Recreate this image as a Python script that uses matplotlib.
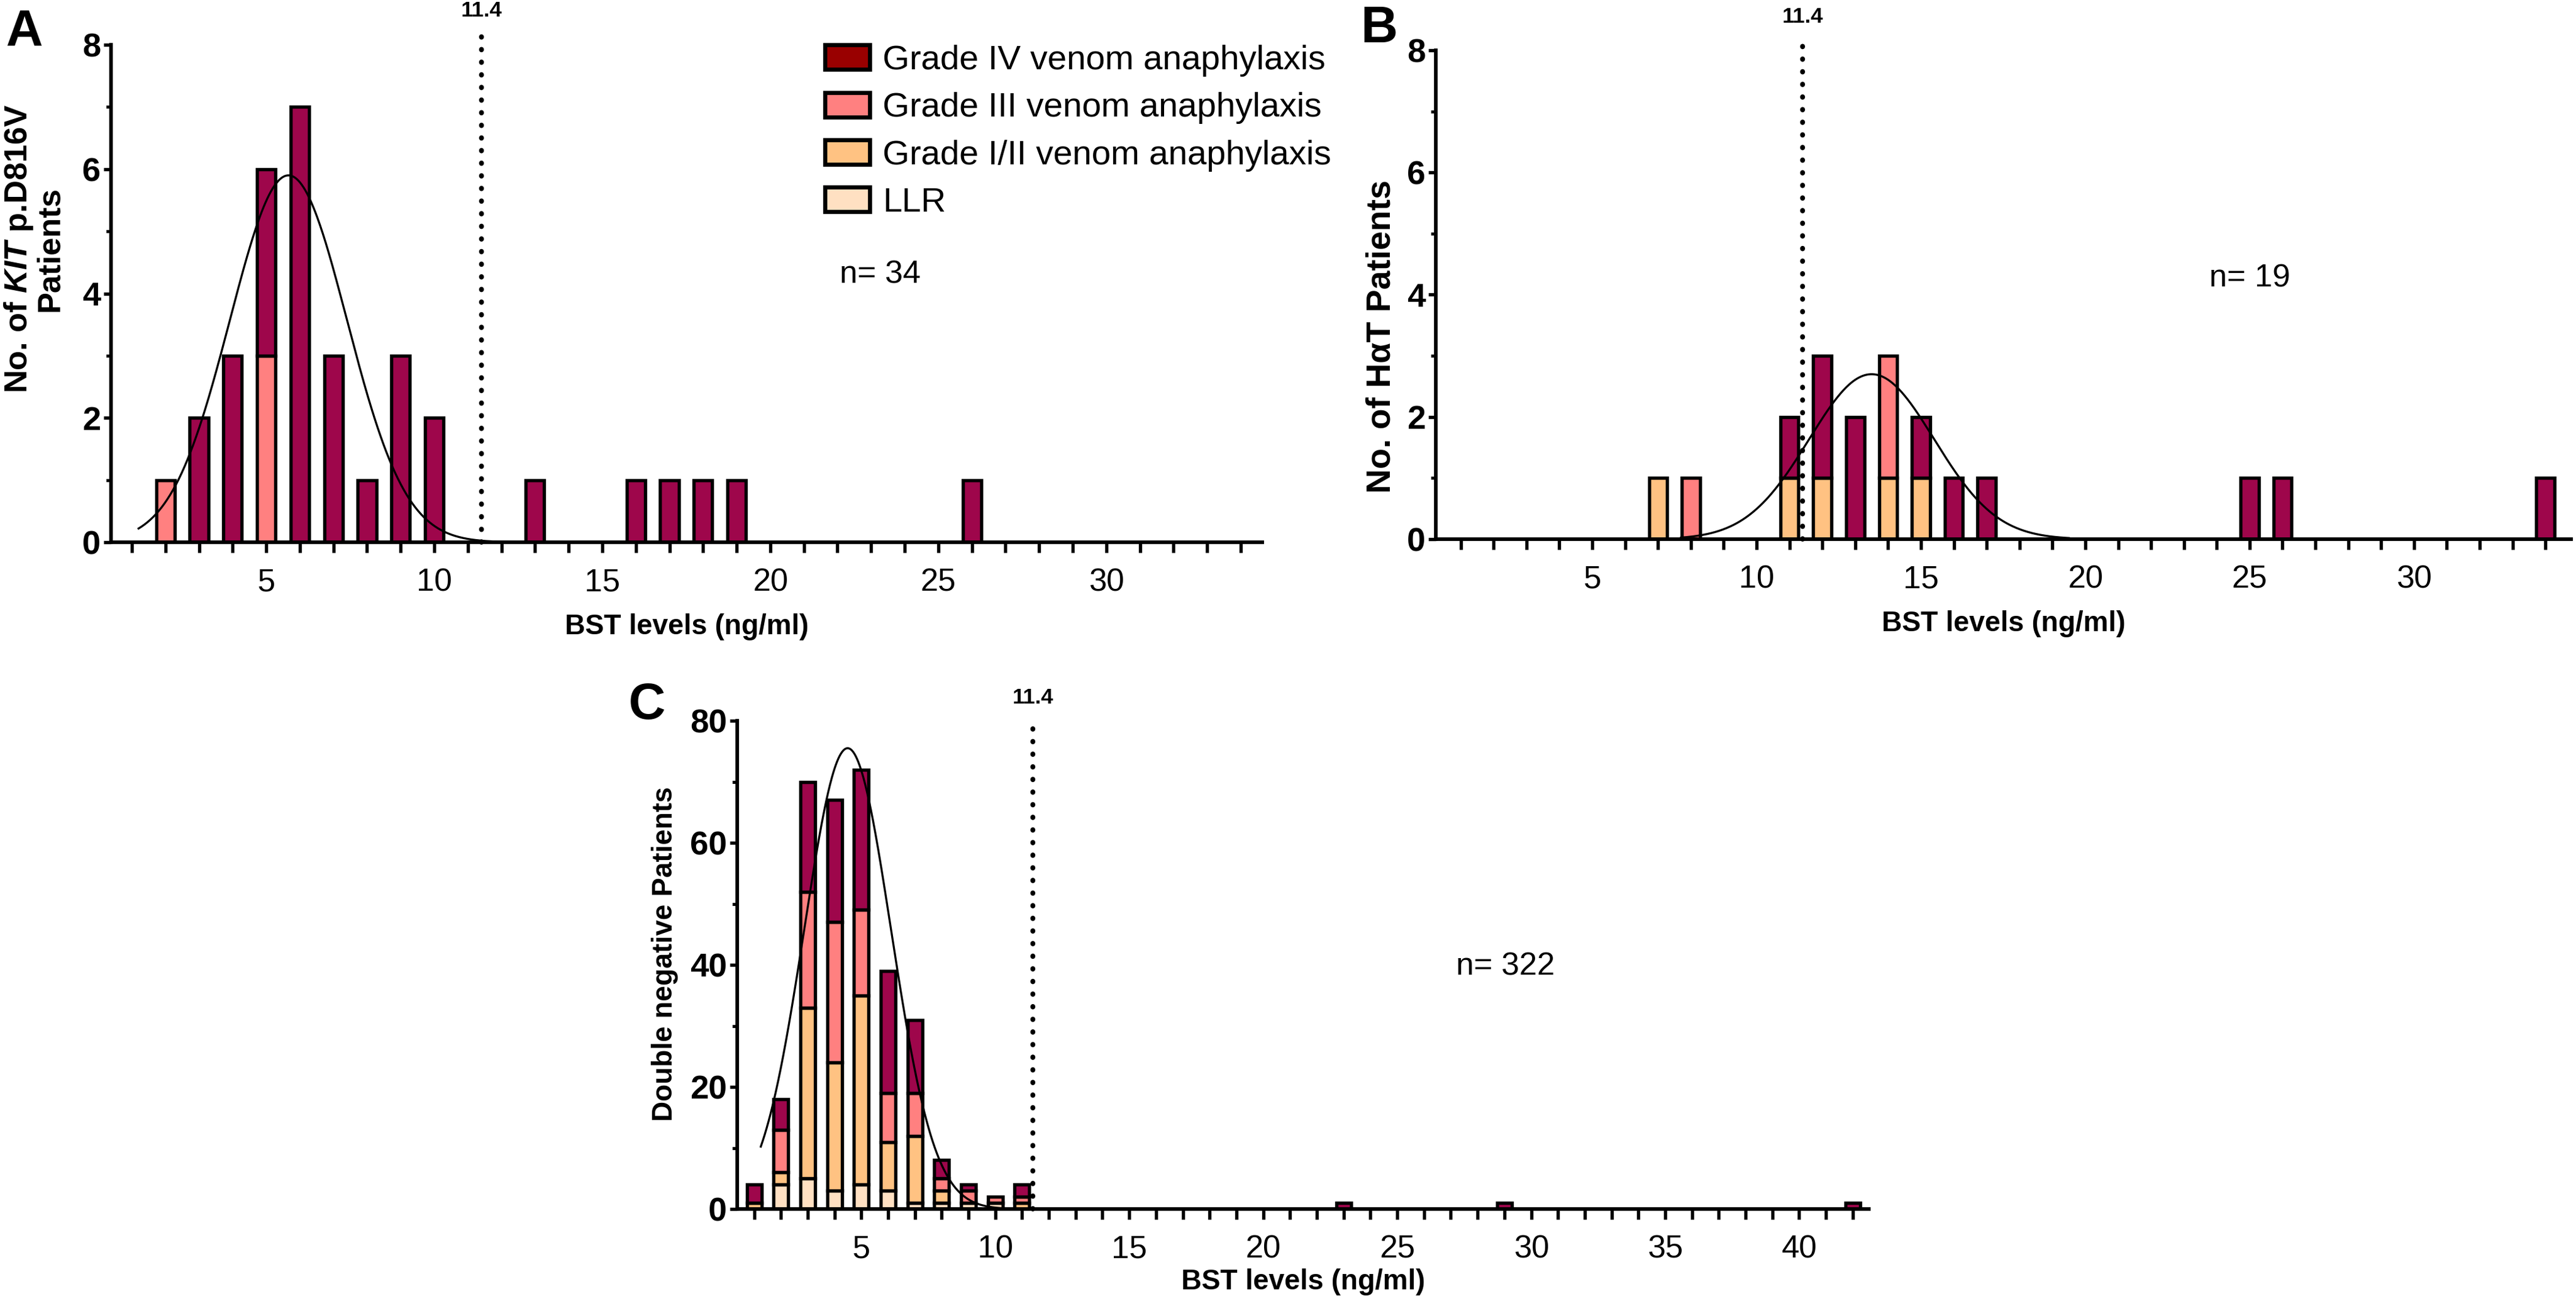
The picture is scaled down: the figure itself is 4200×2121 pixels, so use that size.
import numpy as np
import matplotlib
matplotlib.use("Agg")
import matplotlib.pyplot as plt
from matplotlib.ticker import MultipleLocator, FuncFormatter
from matplotlib.patches import Patch

plt.rcParams['font.family'] = ['Liberation Sans', 'DejaVu Sans']
plt.rcParams['mathtext.fontset'] = 'custom'
plt.rcParams['mathtext.rm'] = 'Liberation Sans'
plt.rcParams['mathtext.it'] = 'Liberation Sans:italic'
plt.rcParams['mathtext.bf'] = 'Liberation Sans:bold'
plt.rcParams['mathtext.bfit'] = 'Liberation Sans:bold:italic'

# ---------------- data ----------------
categories = ["LLR", "Grade I/II venom anaphylaxis", "Grade III venom anaphylaxis",
              "Grade IV venom anaphylaxis"]
legend_order = ["Grade IV venom anaphylaxis", "Grade III venom anaphylaxis",
                "Grade I/II venom anaphylaxis", "LLR"]

# Panel A: KIT p.D816V patients (BST bins, ng/ml)
a_x   = [2, 3, 4, 5, 6, 7, 8, 9, 10, 13, 16, 17, 18, 19, 26]
a_llr = [0, 0, 0, 0, 0, 0, 0, 0, 0, 0, 0, 0, 0, 0, 0]
a_g12 = [0, 0, 0, 0, 0, 0, 0, 0, 0, 0, 0, 0, 0, 0, 0]
a_g3  = [1, 0, 0, 3, 0, 0, 0, 0, 0, 0, 0, 0, 0, 0, 0]
a_g4  = [0, 2, 3, 3, 7, 3, 1, 3, 2, 1, 1, 1, 1, 1, 1]
a_fit = (5.9, 5.66, 1.74)   # amplitude, mean, SD of the Gaussian fit
a_fit_range = (1.2, 12.6)

# Panel B: HaT patients
b_x   = [7, 8, 11, 12, 13, 14, 15, 16, 17, 25, 26, 34]
b_llr = [0, 0, 0, 0, 0, 0, 0, 0, 0, 0, 0, 0]
b_g12 = [1, 0, 1, 1, 0, 1, 1, 0, 0, 0, 0, 0]
b_g3  = [0, 1, 0, 0, 0, 2, 0, 0, 0, 0, 0, 0]
b_g4  = [0, 0, 1, 2, 2, 0, 1, 1, 1, 1, 1, 1]
b_fit = (2.7, 13.5, 1.9)
b_fit_range = (7.7, 19.5)

# Panel C: double negative patients
c_x   = [1, 2, 3, 4, 5, 6, 7, 8, 9, 10, 11, 23, 29, 42]
c_llr = [0, 4, 5, 3, 4, 3, 1, 1, 1, 1, 0, 0, 0, 0]
c_g12 = [1, 2, 28, 21, 31, 8, 11, 2, 0, 0, 1, 0, 0, 0]
c_g3  = [0, 7, 19, 23, 14, 8, 7, 2, 2, 1, 1, 0, 0, 0]
c_g4  = [3, 5, 18, 20, 23, 20, 12, 3, 1, 0, 2, 1, 1, 1]
c_fit = (75.5, 4.49, 1.62)
c_fit_range = (1.25, 10.8)

cutoff = 11.4
cutoff_label = "11.4"

# ---------------- style ----------------
bar_colors = {"LLR": "#FFE0C2", "Grade I/II venom anaphylaxis": "#FFC282",
              "Grade III venom anaphylaxis": "#FF8080",
              "Grade IV venom anaphylaxis": "#9E064B"}
legend_colors = {"LLR": "#FFE0C2", "Grade I/II venom anaphylaxis": "#FFC282",
                 "Grade III venom anaphylaxis": "#FF8080",
                 "Grade IV venom anaphylaxis": "#990000"}

W, H = 4200, 2121
fig = plt.figure(figsize=(W / 300, H / 300), dpi=300)


def px_axes(l, r, t, b):
    return fig.add_axes([l / W, 1 - b / H, (r - l) / W, (b - t) / H])


def draw(ax, x, stacks, fit, fit_range, xlim, ymax, ystep, yminor, xmax_tick, ylab,
         ylab_xy, ylab_size, nlabel, n_xy, cut_top, cut_lab_y, ylab_ls=1.0):
    x = np.array(x, dtype=float)
    bottom = np.zeros(len(x))
    for cat, vals in zip(categories, stacks):
        vals = np.array(vals, dtype=float)
        m = vals > 0
        if m.any():
            ax.bar(x[m], vals[m], bottom=bottom[m], width=0.55,
                   color=bar_colors[cat], edgecolor="black", linewidth=1.3, zorder=2)
        bottom += vals
    amp, mu, sd = fit
    xs = np.linspace(fit_range[0], fit_range[1], 400)
    ax.plot(xs, amp * np.exp(-(xs - mu) ** 2 / (2 * sd ** 2)), color="black",
            lw=0.8, zorder=4)
    ax.plot([cutoff, cutoff], [0, cut_top], color="black", lw=1.9,
            linestyle=(0, (0.1, 2.5)), dash_capstyle="round", clip_on=False, zorder=3)
    ax.text(cutoff, cut_lab_y, cutoff_label, ha="center", va="center",
            fontsize=8.5, fontweight="bold", clip_on=False)
    ax.set_xlim(*xlim)
    ax.set_ylim(0, ymax)
    for s in ["top", "right"]:
        ax.spines[s].set_visible(False)
    for s in ["left", "bottom"]:
        ax.spines[s].set_linewidth(1.4)
    ax.set_xticks(np.arange(1, xmax_tick + 1))
    ax.xaxis.set_major_formatter(FuncFormatter(
        lambda v, p: f"{int(round(v))}" if int(round(v)) % 5 == 0 else ""))
    ax.tick_params(axis="x", direction="out", length=4, width=1.3, labelsize=12.5, pad=6)
    ax.yaxis.set_major_locator(MultipleLocator(ystep))
    ax.yaxis.set_minor_locator(MultipleLocator(yminor))
    ax.tick_params(axis="y", which="major", direction="out", length=3, width=1.3,
                   labelsize=13, pad=1)
    ax.tick_params(axis="y", which="minor", direction="out", length=2, width=1.2)
    for lab in ax.get_yticklabels():
        lab.set_fontweight("bold")
    ax.set_ylabel(ylab, fontsize=ylab_size, fontweight="bold", linespacing=ylab_ls)
    ax.yaxis.set_label_coords(*ylab_xy)
    ax.set_xlabel("BST levels (ng/ml)", fontsize=11, fontweight="bold")
    ax.text(n_xy[0], n_xy[1], nlabel, transform=ax.transAxes, fontsize=12.5,
            ha="center", va="center")


# Panel A
axA = px_axes(181, 2058, 73, 884)
draw(axA, a_x, [a_llr, a_g12, a_g3, a_g4], a_fit, a_fit_range, (0.38, 34.64), 8, 2, 1,
     34, "No. of $\\mathbfit{KIT}$ p.D816V\nPatients", (-0.040, 0.59), 12.6,
     "n= 34", ((1435 - 181) / 1877, (884 - 448) / 811), 8.24, 8.55, ylab_ls=1.0)
axA.xaxis.set_label_coords(0.5, -0.143)

# Panel B
axB = px_axes(2341, 4192, 82, 879)
draw(axB, b_x, [b_llr, b_g12, b_g3, b_g4], b_fit, b_fit_range, (0.24, 34.78), 8, 2, 1,
     34, "No. of H\u03b1T Patients", (-0.034, 0.415), 13.3, "n= 19",
     ((3668 - 2341) / 1851, (879 - 454) / 797), 8.25, 8.55)
axB.xaxis.set_label_coords(0.5, -0.146)

# Panel C
axC = px_axes(1202, 3047, 1175, 1971)
draw(axC, c_x, [c_llr, c_g12, c_g3, c_g4], c_fit, c_fit_range, (0.37, 42.6), 80, 20, 10,
     42, "Double negative Patients", (-0.052, 0.523), 11, "n= 322",
     ((2454 - 1202) / 1845, (1971 - 1576) / 796), 80.5, 83.8)
axC.xaxis.set_label_coords(0.5, -0.122)

# Legend
handles = [Patch(facecolor=legend_colors[c], edgecolor="black", linewidth=1.6)
           for c in legend_order]
fig.legend(handles, legend_order, loc="upper left",
           bbox_to_anchor=(1345 / W, 1 - 73 / H), frameon=False, fontsize=13.5,
           handlelength=1.3, handleheight=0.72, handletextpad=0.38,
           labelspacing=0.45, borderpad=0, borderaxespad=0)

# Panel letters
for letter, (px, py) in {"A": (10, 75), "B": (2218, 69), "C": (1025, 1172)}.items():
    fig.text(px / W, 1 - py / H, letter, fontsize=20, fontweight="bold",
             ha="left", va="baseline")

fig.savefig("out.png", dpi=300)
